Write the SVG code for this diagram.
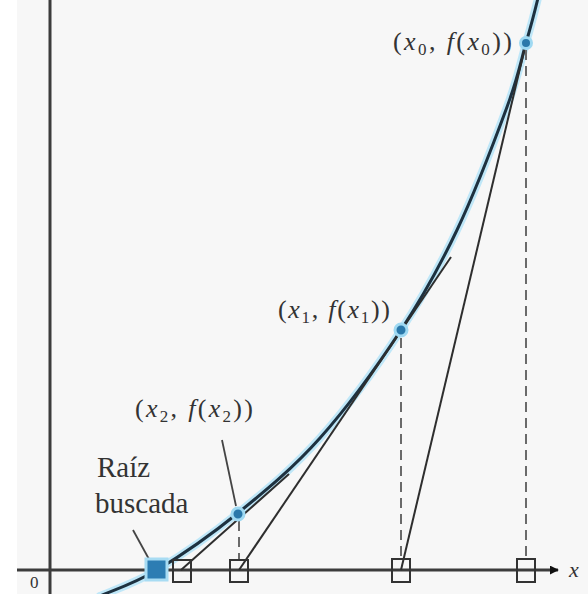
<svg xmlns="http://www.w3.org/2000/svg" width="588" height="594" viewBox="0 0 588 594">
<style>
.lbl{font-family:"Liberation Serif","Times New Roman",serif;fill:#333;}
.it{font-style:italic;}
.axis{stroke:#3c3c3c;stroke-width:3;fill:none;}
.tan{stroke:#2e2e2e;stroke-width:2;fill:none;}
.dash{stroke:#6a6a6a;stroke-width:2;stroke-dasharray:10 6;fill:none;}
.sq{stroke:#333;stroke-width:2;fill:none;}
.ptr{stroke:#444;stroke-width:1.8;fill:none;}
.halo{stroke:#bfe7f8;stroke-width:8;fill:none;stroke-linecap:round;}
.curve{stroke:#1d3140;stroke-width:3;fill:none;}
.pt{fill:#2a78aa;stroke:#9fd9f2;stroke-width:3;}
</style>
<defs>
<marker id="arr" viewBox="0 0 10 10" refX="9" refY="5" markerWidth="3" markerHeight="3" orient="auto">
<path d="M0,0 L10,5 L0,10 z" fill="#111"/>
</marker>
</defs>
<rect x="0" y="0" width="588" height="594" fill="#ffffff"/>
<rect x="17" y="0" width="571" height="594" fill="#f7f7f7"/>

<g id="axes">
<line class="axis" x1="50" y1="0" x2="50" y2="594"/>
<line class="axis" x1="17" y1="570" x2="558" y2="570" marker-end="url(#arr)"/>
<text class="lbl it" x="569" y="577" font-size="22">x</text>
<text class="lbl" x="30" y="588" font-size="17">0</text>
</g>

<g id="curve">
<path class="halo" d="M100,596 C109.5,591.7 134,583.8 157,570 C180,556.2 210.8,535 238,513 C265.2,491 292.8,468.5 320,438 C347.2,407.5 378.2,364.7 401,330 C423.8,295.3 439.3,267.2 457,230 C474.7,192.8 495.5,138.2 507,107 C518.5,75.8 521,60.3 526,43 C531,25.7 535.2,9.7 538,-2"/>
<path class="curve" d="M100,596 C109.5,591.7 134,583.8 157,570 C180,556.2 210.8,535 238,513 C265.2,491 292.8,468.5 320,438 C347.2,407.5 378.2,364.7 401,330 C423.8,295.3 439.3,267.2 457,230 C474.7,192.8 495.5,138.2 507,107 C518.5,75.8 521,60.3 526,43 C531,25.7 535.2,9.7 538,-2"/>
</g>

<g id="connectors">
<line class="tan" x1="401" y1="570" x2="526" y2="43"/>
<line class="tan" x1="239" y1="570" x2="451" y2="257"/>
<line class="tan" x1="181" y1="570" x2="289" y2="474"/>
<line class="dash" x1="526" y1="50" x2="526" y2="559"/>
<line class="dash" x1="401" y1="338" x2="401" y2="559"/>
<line class="dash" x1="239" y1="521" x2="239" y2="559"/>
<line class="ptr" x1="222" y1="440" x2="236" y2="506"/>
<line class="ptr" x1="133" y1="530" x2="150" y2="561"/>
</g>

<g id="squares">
<rect class="sq" x="173" y="560" width="18" height="22"/>
<rect class="sq" x="230" y="560" width="18" height="22"/>
<rect class="sq" x="392" y="559" width="18" height="23"/>
<rect class="sq" x="517" y="559" width="18" height="23"/>
</g>

<g id="root">
<rect x="146" y="559" width="21" height="21" fill="#2d7db3" stroke="#a8dcf3" stroke-width="3"/>
<text class="lbl" x="97" y="477" font-size="29">Raíz</text>
<text class="lbl" x="95" y="513" font-size="29">buscada</text>
</g>

<g id="p0">
<circle class="pt" cx="526" cy="43" r="5.5"/>
<text class="lbl" x="393" y="50" font-size="26" textLength="119" lengthAdjust="spacing">(<tspan class="it">x</tspan><tspan font-size="17" dy="5">0</tspan><tspan dy="-5">, </tspan><tspan class="it">f</tspan>(<tspan class="it">x</tspan><tspan font-size="17" dy="5">0</tspan><tspan dy="-5">))</tspan></text>
</g>

<g id="p1">
<circle class="pt" cx="401" cy="330" r="6"/>
<text class="lbl" x="278" y="318" font-size="26" textLength="112" lengthAdjust="spacing">(<tspan class="it">x</tspan><tspan font-size="17" dy="5">1</tspan><tspan dy="-5">, </tspan><tspan class="it">f</tspan>(<tspan class="it">x</tspan><tspan font-size="17" dy="5">1</tspan><tspan dy="-5">))</tspan></text>
</g>

<g id="p2">
<circle class="pt" cx="238" cy="514" r="6"/>
<text class="lbl" x="135" y="417" font-size="26" textLength="118" lengthAdjust="spacing">(<tspan class="it">x</tspan><tspan font-size="17" dy="5">2</tspan><tspan dy="-5">, </tspan><tspan class="it">f</tspan>(<tspan class="it">x</tspan><tspan font-size="17" dy="5">2</tspan><tspan dy="-5">))</tspan></text>
</g>
</svg>
